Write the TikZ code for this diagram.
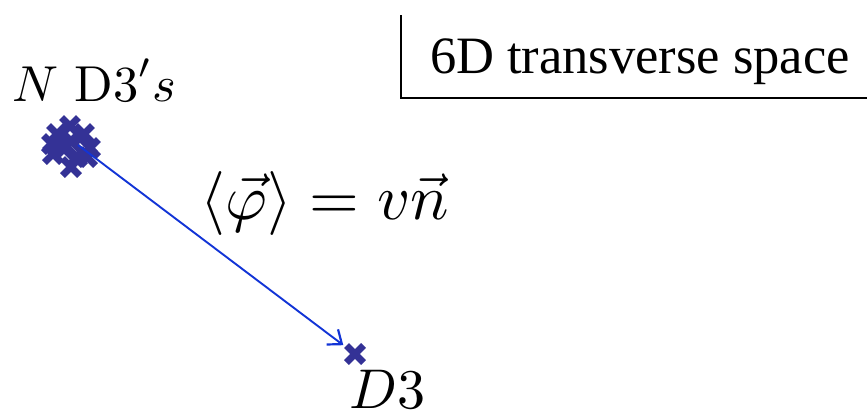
\documentclass[tikz,border=0pt]{standalone}
\usepackage{amsmath,amssymb}
\usepackage{fontspec}
\newfontfamily\timesfont{Liberation Serif}
\usepackage{tikz}
\usetikzlibrary{arrows.meta,shapes.misc}

\definecolor{markblue}{RGB}{52,50,150}
\definecolor{vevblue}{RGB}{18,52,214}

\tikzset{
  brane/.style={cross out, draw=markblue, line width=7pt, inner sep=0pt, minimum size=10pt},
  biglabel/.style={anchor=base west, inner sep=0pt, transform shape, scale=#1},
  biglabel/.default=5.2
}

\begin{document}
\begin{tikzpicture}[x=1pt,y=-1pt]
\useasboundingbox (0,0) rectangle (867,415);

% corner label for the transverse space
\coordinate (T) at (401,15);
\coordinate (L) at (401,98);
\coordinate (R) at (867,98);
\draw[line width=2.6pt] (T) -- (L) -- (R);
\node[biglabel=5.25, font=\timesfont] (space) at (429,73) {6D transverse space};

% stack of N D3-branes
\foreach \bx/\by [count=\i] in {70/126, 57/134, 84/134, 52/144, 71/141, 90/148,
                                53/154, 64/149, 77/157, 87/157, 71/167}
  \node[brane] (b\i) at (\bx,\by) {};
\coordinate (Ctr) at (78,145);
\node[biglabel=5.05] (stack) at (11,101) {$N\ \mathrm{D3}'s$};

% separated D3-brane
\node[brane] (single) at (355,354) {};
\node[biglabel=5.6] (single label) at (348,408) {$D3$};

% vev pointing along the unit vector
\draw[-{Straight Barb[length=12pt,width=19pt,line width=2.2pt]}, vevblue, line width=1.9pt, shorten >=4pt]
  (Ctr) -- (single);
\node[biglabel=6.4] (vev) at (199,219) {$\langle\vec{\varphi}\rangle = v\vec{n}$};
\end{tikzpicture}
\end{document}
